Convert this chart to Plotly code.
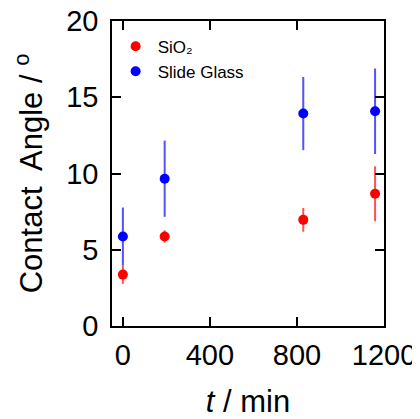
import plotly.graph_objects as go

t_min = [0, 192, 829, 1159]
sio2 = [3.37, 5.87, 6.96, 8.67]
sio2_err = [0.6, 0.4, 0.78, 1.8]
glass = [5.87, 9.66, 13.93, 14.08]
glass_err = [1.9, 2.5, 2.4, 2.8]

x_ticks = [0, 400, 800, 1200]
y_ticks = [0, 5, 10, 15, 20]

FONT = "Liberation Sans, Arial"

fig = go.Figure()
fig.add_trace(go.Scatter(
    x=t_min, y=sio2, mode="markers", name="SiO₂",
    marker=dict(color="#ff0000", size=10),
    error_y=dict(type="data", array=sio2_err, color="rgba(255,50,50,0.85)", thickness=2, width=0),
))
fig.add_trace(go.Scatter(
    x=t_min, y=glass, mode="markers", name="Slide Glass",
    marker=dict(color="#0000ff", size=10),
    error_y=dict(type="data", array=glass_err, color="rgba(50,50,255,0.85)", thickness=2, width=0),
))

axis_common = dict(
    showgrid=False, zeroline=False, showline=True, linecolor="black", linewidth=1.5,
    mirror="ticks", ticks="inside", ticklen=9, tickwidth=1.5, tickcolor="black",
    automargin=False, ticklabeloverflow="allow",
    tickfont=dict(family=FONT, size=29, color="black"),
)
fig.update_xaxes(range=[-50, 1200], tickvals=x_ticks, ticktext=[str(v) for v in x_ticks],
                 ticklabelstandoff=2,
                 title=dict(text="<i>t</i> / min", font=dict(family=FONT, size=31, color="black"), standoff=30),
                 **axis_common)
fig.update_yaxes(range=[0, 20], tickvals=y_ticks, ticktext=[str(v) for v in y_ticks],
                 ticklabelstandoff=6,
                 title=dict(text="Contact  Angle / <sup>o</sup>", font=dict(family=FONT, size=31, color="black"), standoff=14),
                 **axis_common)

# page body has an 8px default margin, so the figure is offset by 8px
fig.update_layout(
    width=412, height=411,
    margin=dict(l=104, r=36, t=13, b=93),
    plot_bgcolor="white", paper_bgcolor="white",
    showlegend=True,
    legend=dict(x=0.006, y=0.975, xanchor="left", yanchor="top", bgcolor="rgba(0,0,0,0)",
                font=dict(family=FONT, size=17, color="black"),
                itemwidth=34, tracegroupgap=0),
)
fig.write_html("out.html")
